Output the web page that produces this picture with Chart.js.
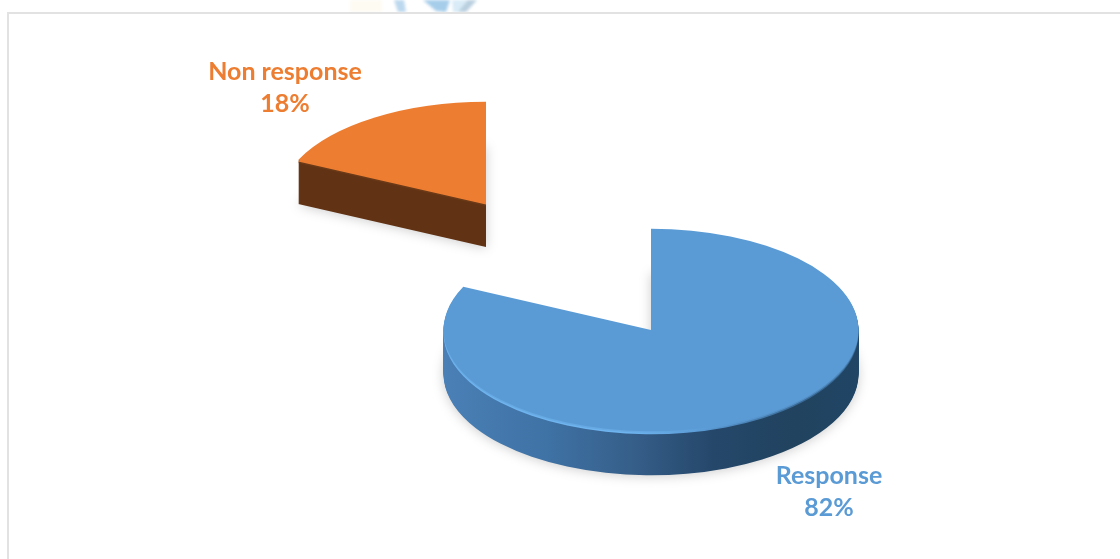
<!DOCTYPE html>
<html>
<head>
<meta charset="utf-8">
<title>Response rate</title>
<script src="https://cdn.jsdelivr.net/npm/chart.js@4/dist/chart.umd.min.js"></script>
<style>
  html, body { margin: 0; padding: 0; background: #fff; overflow: hidden; }
  #stage { position: relative; width: 1120px; height: 559px; }
  #chart { position: absolute; left: 0; top: 0; }
  #crest { position: absolute; left: 340px; top: 0; }
  .rule { position: absolute; background: #e2e2e2; }
  #ruleTop { left: 7px; top: 12px; width: 1113px; height: 2px; }
  #ruleLeft { left: 7px; top: 12px; width: 2px; height: 547px; }
</style>
</head>
<body>
<div id="stage">
  <svg id="crest" width="200" height="12" viewBox="0 0 200 12">
    <defs><filter id="soft"><feGaussianBlur stdDeviation="1.4"/></filter></defs>
    <g filter="url(#soft)">
      <rect x="10" y="0" width="32" height="12" fill="#fefbf3"/>
      <path d="M54 0 L64 0 L66 12 L58 12 Z" fill="#bcd8ee"/>
      <path d="M83 0 L110 0 L106 12 L96 11 Z" fill="#a6cdea"/>
      <path d="M112 0 L137 0 L124 12 L113 12 Z" fill="#d8ebf7"/>
      <path d="M128 0 L137 0 L126 12 L118 12 Z" fill="#b9cfdf"/>
    </g>
  </svg>
  <div class="rule" id="ruleTop"></div>
  <div class="rule" id="ruleLeft"></div>
  <canvas id="chart" width="1120" height="559"></canvas>
</div>
<script>
const categories = ['Response', 'Non response'];
const responseShare = [82, 18];
const sliceColors = ['#5b9bd5', '#ed7d31'];

// Projection of the tilted pie: flat ellipse centre, squash factor, wall height, slice separation.
const TILT = { cx: 568.5, cy: 266.5, squash: 0.488, depth: 44, explode: 154 };
const PIE_RADIUS = 207.5;

const wallStops = [
  [[0, '#4a80b6'], [0.25, '#3f72a5'], [0.45, '#365f8a'], [0.65, '#25476a'], [0.85, '#21435f'], [1, '#204565']],
  [[0, '#613214'], [1, '#613214']]
];
const rimStops = [
  [[0, '#6fb4ef'], [0.45, '#6fb4ef'], [0.62, '#5b9bd5'], [0.85, '#3a6a96'], [1, '#356590']],
  [[0, '#6b3916'], [1, '#6b3916']]
];
const bevelStops = [
  [[0, '#66a9e3'], [0.5, '#66a9e3'], [0.65, '#5b9bd5'], [1, '#4c86bb']],
  [[0, '#ed7d31'], [1, '#ed7d31']]
];
const labelLayout = [
  { x: 829, y: 476 },
  { x: 285, y: 72 }
];

function sweepFill(ctx, arc, stops) {
  const g = ctx.createLinearGradient(arc.x - PIE_RADIUS, 0, arc.x + PIE_RADIUS, 0);
  stops.forEach(s => g.addColorStop(s[0], s[1]));
  return g;
}

// Paints one arc element through the tilt transform, lowered by `drop` pixels.
function paintArc(ctx, arc, fill, drop, shadow) {
  const mid = (arc.startAngle + arc.endAngle) / 2;
  const saved = arc.options;
  arc.options = Object.assign({}, saved, { backgroundColor: fill, borderWidth: 0, offset: 0 });
  ctx.save();
  if (shadow) {
    ctx.shadowColor = 'rgba(0,0,0,0.2)';
    ctx.shadowBlur = 12;
    ctx.shadowOffsetY = 1;
  }
  ctx.translate(TILT.cx, TILT.cy + drop);
  ctx.scale(1, TILT.squash);
  ctx.translate(Math.cos(mid) * TILT.explode - arc.x, Math.sin(mid) * TILT.explode - arc.y);
  arc.draw(ctx);
  ctx.restore();
  arc.options = saved;
}

const tiltedPie = {
  id: 'tiltedPie',
  beforeDatasetDraw(chart, args) {
    const ctx = chart.ctx;
    const arcs = chart.getDatasetMeta(args.index).data;
    arcs.slice().reverse().forEach((arc, r) => {
      const i = arcs.length - 1 - r;
      const wall = sweepFill(ctx, arc, wallStops[i]);
      for (let d = TILT.depth; d >= 1; d--) {
        paintArc(ctx, arc, wall, d, d === TILT.depth);
      }
      paintArc(ctx, arc, sweepFill(ctx, arc, rimStops[i]), 3, false);
      paintArc(ctx, arc, sweepFill(ctx, arc, bevelStops[i]), 1.5, false);
      paintArc(ctx, arc, sliceColors[i], 0, false);
    });
    return false;
  },
  afterDraw(chart) {
    const ctx = chart.ctx;
    ctx.save();
    ctx.font = 'bold 25px Lato, "Open Sans", sans-serif';
    ctx.textAlign = 'center';
    ctx.textBaseline = 'middle';
    categories.forEach((name, i) => {
      ctx.fillStyle = sliceColors[i];
      ctx.fillText(name, labelLayout[i].x, labelLayout[i].y);
      ctx.fillText(responseShare[i] + '%', labelLayout[i].x, labelLayout[i].y + 32);
    });
    ctx.restore();
  }
};

new Chart(document.getElementById('chart'), {
  type: 'pie',
  data: {
    labels: categories,
    datasets: [{
      data: responseShare,
      backgroundColor: sliceColors,
      borderWidth: 0,
      clip: false
    }]
  },
  options: {
    responsive: false,
    animation: false,
    radius: PIE_RADIUS,
    rotation: 0,
    layout: { padding: { left: 17 } },
    plugins: { legend: { display: false }, tooltip: { enabled: false } }
  },
  plugins: [tiltedPie]
});
</script>
</body>
</html>
